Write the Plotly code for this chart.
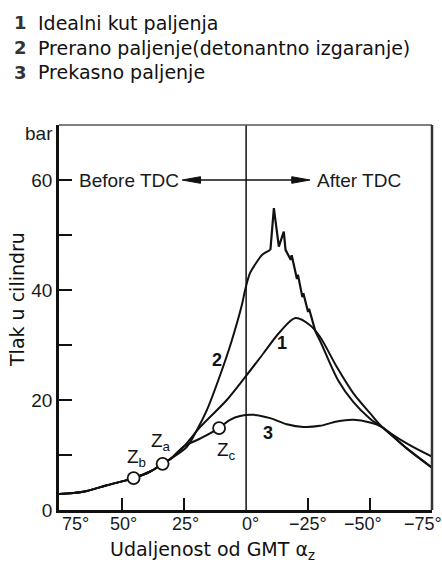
import plotly.graph_objects as go

# Crank angle relative to TDC (positive = before TDC) and cylinder pressure in bar
ang_common = [75.4, 65.8, 56.2, 45.4, 38.7, 33.7, 30.5]
p_common = [2.9, 3.3, 4.5, 5.8, 7.0, 8.4, 9.3]

# 1 - ideal ignition timing
ang_1 = [25.0, 18.5, 7.8, 0.0, -7.0, -13.7, -19.9, -25.8, -29.8, -36.6, -43.3, -50.0, -54.7, -64.8, -75.0]
p_1 = [11.6, 15.1, 20.0, 24.4, 28.5, 32.4, 34.9, 33.6, 31.5, 26.0, 21.2, 17.6, 15.2, 12.1, 9.7]

# 2 - premature ignition (knocking combustion)
ang_2 = [23.9, 19.9, 15.8, 10.5, 6.0, 1.7, 0.4, -1.6, -4.3, -6.5, -9.8, -11.2, -13.2, -15.2, -15.9,
         -18.0, -18.4, -20.5, -20.9, -22.7, -23.1, -25.0, -25.4, -28.0, -30.0, -37.1, -43.3, -50.0,
         -54.7, -64.8, -75.0]
p_2 = [11.5, 14.5, 18.2, 24.5, 30.5, 37.3, 40.0, 43.1, 45.1, 46.4, 47.3, 54.9, 47.9, 50.6, 47.3,
       45.5, 46.3, 42.0, 42.8, 38.7, 39.4, 36.0, 36.6, 32.4, 30.6, 23.6, 19.6, 16.6,
       15.1, 11.2, 7.7]
# knocking section (pressure oscillations) lies between these two indices of ang_2
KNOCK_START, KNOCK_END = 10, 23

# 3 - late ignition
ang_3 = [25.3, 18.5, 10.9, 6.5, 2.4, -3.0, -9.7, -16.4, -23.1, -29.8, -36.6, -43.3, -50.0, -54.7, -64.8, -75.0]
p_3 = [11.5, 13.0, 14.9, 16.4, 17.1, 17.3, 16.7, 15.6, 15.1, 15.3, 16.1, 16.4, 15.9, 15.1, 11.2, 7.7]

# Ignition points Z_b, Z_a, Z_c
z_names = ["b", "a", "c"]
z_ang = [45.4, 33.7, 10.9]
z_p = [5.8, 8.4, 14.9]

x_tick_vals = [75, 50, 25, 0, -25, -50, -75]
x_tick_text = ["75°", "50°", "25°", "0°", "\u221225°", "\u221250°", "\u221275°"]
y_tick_vals = [0, 20, 40, 60]
y_tick_text = ["0", "20", "40", "60"]
y_minor_vals = [10, 30, 50]

legend_lines = [("1", "Idealni kut paljenja"),
                ("2", "Prerano paljenje(detonantno izgaranje)"),
                ("3", "Prekasno paljenje")]

W, H = 442, 563
ML, MR, MT, MB = 59, 10, 125, 53
X_RANGE = [75.5, -75.0]
Y_RANGE = [0, 70]


def py(pix):
    """Pixel row -> paper y."""
    return (H - MB - pix) / (H - MT - MB)


def px(pix):
    """Pixel column -> paper x."""
    return (pix - ML) / (W - ML - MR)


INK = "#111111"
SMOOTH = dict(color=INK, width=2, shape="spline", smoothing=0.9)
JAGGED = dict(color=INK, width=2.2, shape="linear")

fig = go.Figure()
fig.add_trace(go.Scatter(x=ang_common + ang_1, y=p_common + p_1, mode="lines", line=SMOOTH, hoverinfo="skip"))
# curve 2: smooth rise, knocking oscillations, smooth expansion
fig.add_trace(go.Scatter(x=ang_common + ang_2[:KNOCK_START + 1], y=p_common + p_2[:KNOCK_START + 1],
                         mode="lines", line=SMOOTH, hoverinfo="skip"))
fig.add_trace(go.Scatter(x=ang_2[KNOCK_START:KNOCK_END + 1], y=p_2[KNOCK_START:KNOCK_END + 1],
                         mode="lines", line=JAGGED, hoverinfo="skip"))
fig.add_trace(go.Scatter(x=ang_2[KNOCK_END:], y=p_2[KNOCK_END:], mode="lines", line=SMOOTH, hoverinfo="skip"))
fig.add_trace(go.Scatter(x=ang_common + ang_3, y=p_common + p_3, mode="lines", line=SMOOTH, hoverinfo="skip"))
fig.add_trace(go.Scatter(x=z_ang, y=z_p, mode="markers",
                         marker=dict(size=12, color="white", line=dict(color=INK, width=1.8)),
                         hoverinfo="skip"))

shapes = []
# TDC line
shapes.append(dict(type="line", xref="x", yref="paper", x0=0, x1=0, y0=0, y1=1,
                   line=dict(color=INK, width=1.5)))
# top and right frame
shapes.append(dict(type="line", xref="paper", yref="paper", x0=0, x1=1, y0=1, y1=1,
                   line=dict(color="#555555", width=1.5)))
shapes.append(dict(type="line", xref="paper", yref="paper", x0=1, x1=1, y0=0, y1=1,
                   line=dict(color="#333333", width=2.5)))
# double arrow Before/After TDC
arrow_x = 25.8
head_len = 7.4
head_half = 0.6
shapes.append(dict(type="line", xref="x", yref="y", x0=arrow_x - 2, x1=-arrow_x + 2, y0=60, y1=60,
                   line=dict(color=INK, width=1.5)))
shapes.append(dict(type="path", xref="x", yref="y",
                   path=f"M {arrow_x},60 L {arrow_x - head_len},{60 + head_half} L {arrow_x - head_len},{60 - head_half} Z",
                   fillcolor=INK, line=dict(color=INK, width=1)))
shapes.append(dict(type="path", xref="x", yref="y",
                   path=f"M {-arrow_x},60 L {-arrow_x + head_len},{60 + head_half} L {-arrow_x + head_len},{60 - head_half} Z",
                   fillcolor=INK, line=dict(color=INK, width=1)))

ann = []
HELV = "Liberation Sans, Arial, sans-serif"
VERD = "DejaVu Sans, Verdana, sans-serif"

ann.append(dict(x=arrow_x + 0.3, y=60, xref="x", yref="y", text="Before TDC", showarrow=False,
                xanchor="right", yanchor="middle", font=dict(family=HELV, size=19, color="#1a1a1a")))
ann.append(dict(x=-arrow_x - 2, y=60, xref="x", yref="y", text="After TDC", showarrow=False,
                xanchor="left", yanchor="middle", font=dict(family=HELV, size=19, color="#1a1a1a")))
ann.append(dict(x=px(55), y=py(133), xref="paper", yref="paper", text="bar", showarrow=False,
                xanchor="right", yanchor="middle", font=dict(family=HELV, size=19, color="#1a1a1a")))

# x tick labels
x_label_px = [75, 123, 185, 250, 308, 363, 423]
for v, t, xp in zip(x_tick_vals, x_tick_text, x_label_px):
    ann.append(dict(x=px(xp), y=py(524), xref="paper", yref="paper", text=t, showarrow=False,
                    xanchor="center", yanchor="middle", font=dict(family=HELV, size=18, color="#1a1a1a")))

# curve numbers
for txt, xp, yp in [("1", 282, 343), ("2", 217, 360), ("3", 268, 433)]:
    ann.append(dict(x=px(xp), y=py(yp), xref="paper", yref="paper", text=f"<b>{txt}</b>", showarrow=False,
                    xanchor="center", yanchor="middle", font=dict(family=HELV, size=18, color=INK)))

# ignition point labels
for n, xp, yp in zip(z_names, [136, 161, 226], [458, 442, 451]):
    ann.append(dict(x=px(xp), y=py(yp), xref="paper", yref="paper",
                    text=f"Z<sub>{n}</sub>", showarrow=False,
                    xanchor="center", yanchor="middle", font=dict(family=HELV, size=19, color=INK)))

# axis titles
ann.append(dict(x=px(17), y=py(300), xref="paper", yref="paper", text="Tlak u cilindru", showarrow=False,
                textangle=-90, xanchor="center", yanchor="middle", font=dict(family=VERD, size=19, color=INK)))
ann.append(dict(x=px(108), y=py(550), xref="paper", yref="paper", text="Udaljenost od GMT α<sub>z</sub>",
                showarrow=False, xanchor="left", yanchor="middle", font=dict(family=VERD, size=19, color=INK)))

# header explaining curve numbers
for i, (num, txt) in enumerate(legend_lines):
    yc = 23 + i * 24.5
    ann.append(dict(x=px(12), y=py(yc), xref="paper", yref="paper", text=f"<b>{num}</b>", showarrow=False,
                    xanchor="left", yanchor="middle", font=dict(family=VERD, size=18, color="#333333")))
    ann.append(dict(x=px(36), y=py(yc), xref="paper", yref="paper", text=txt, showarrow=False,
                    xanchor="left", yanchor="middle", font=dict(family=VERD, size=19, color=INK)))

fig.update_layout(
    width=W, height=H,
    margin=dict(l=ML, r=MR, t=MT, b=MB, pad=0),
    paper_bgcolor="white", plot_bgcolor="white",
    showlegend=False,
    shapes=shapes,
    annotations=ann,
    xaxis=dict(range=X_RANGE, tickvals=[50, 25, -25, -50], showticklabels=False, ticks="inside",
               ticklen=12, tickwidth=1.5, tickcolor=INK, showline=True, linecolor=INK,
               linewidth=2.5, showgrid=False, zeroline=False, fixedrange=True),
    yaxis=dict(range=Y_RANGE, tickvals=y_tick_vals, ticktext=y_tick_text, ticks="inside",
               ticklen=13, tickwidth=1.5, tickcolor=INK, showline=True, linecolor=INK,
               linewidth=2.5, showgrid=False, zeroline=False, fixedrange=True,
               minor=dict(tickvals=y_minor_vals, ticks="inside", ticklen=13, tickwidth=1.5,
                          tickcolor=INK, showgrid=False),
               tickfont=dict(family=HELV, size=19, color="#1a1a1a")),
)

fig.write_html("out.html")
